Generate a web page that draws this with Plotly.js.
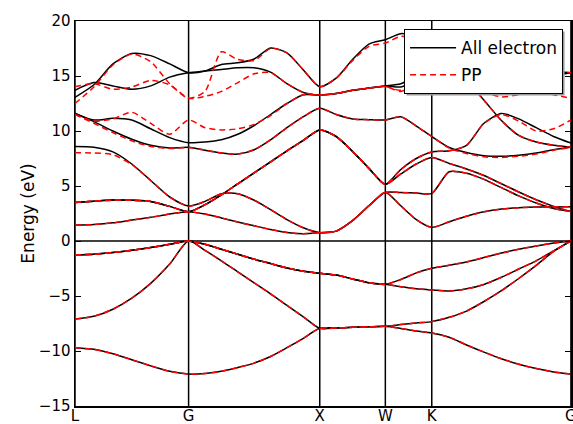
<!DOCTYPE html>
<html>
<head>
<meta charset="utf-8">
<script src="https://cdn.plot.ly/plotly-3.0.1.min.js"></script>
<style>html,body{margin:0;padding:0;background:#fff;}#plot{width:573px;height:424px;}</style>
</head>
<body>
<div id="plot"></div>
<script>
// k-path coordinates (L-G-X-W-K-G)
const kpath = [0,0.144,0.289,0.433,0.577,0.722,0.866, 0.991,1.116,1.241,1.366,1.491,1.616,1.741,1.866, 1.991,2.116,2.241,2.366, 2.484,2.602,2.720, 2.853,2.985,3.118,3.251,3.383,3.516,3.649,3.781];
const symPos = [0,0.866,1.866,2.366,2.720,3.781];
const symLabels = ['L','G','X','W','K','G'];

// valence bands (AE and PP coincide)
const v1 = [-9.7,-9.85,-10.25,-10.8,-11.35,-11.85,-12.1, -12.05,-11.85,-11.5,-11.1,-10.5,-9.7,-8.85,-7.94, -7.9,-7.85,-7.8,-7.76, -7.95,-8.18,-8.36, -8.75,-9.45,-10.1,-10.7,-11.2,-11.6,-11.9,-12.1];
const v2 = [-7.1,-6.85,-6.2,-5.2,-3.85,-2.1,0, -0.85,-1.8,-2.8,-3.8,-4.8,-5.85,-6.9,-7.94, -7.9,-7.85,-7.8,-7.76, -7.6,-7.45,-7.33, -6.94,-6.37,-5.5,-4.52,-3.41,-2.22,-0.95,0];
const v3 = [-1.27,-1.2,-1.05,-0.85,-0.6,-0.3,0, -0.3,-0.75,-1.2,-1.65,-2.05,-2.45,-2.75,-2.94, -3.1,-3.45,-3.8,-3.94, -4.15,-4.35,-4.45, -4.55,-4.35,-3.95,-3.3,-2.55,-1.8,-0.9,0];
const v4 = [-1.27,-1.2,-1.05,-0.85,-0.6,-0.3,0, -0.3,-0.75,-1.2,-1.65,-2.05,-2.45,-2.75,-2.94, -3.1,-3.45,-3.8,-3.94, -3.5,-2.9,-2.48, -2.2,-1.9,-1.5,-1.1,-0.75,-0.45,-0.18,0];

// conduction bands, all electron
const c1 = [1.45,1.5,1.65,1.9,2.15,2.45,2.67, 2.45,2.1,1.72,1.38,1.05,0.78,0.66,0.76, 0.9,1.85,3.2,4.42, 3.2,1.95,1.24, 1.75,2.25,2.65,2.9,3.02,3.08,3.1,3.12];
const c2 = [3.5,3.62,3.72,3.7,3.6,3.15,2.67, 3.3,4.2,5.2,6.2,7.2,8.2,9.15,10.1, 9.5,8.15,6.6,5.15, 6.1,7.0,7.6, 7.05,6.55,5.95,5.2,4.45,3.75,3.15,2.67];
const c3 = [8.58,8.52,8.1,7.0,5.5,4.0,3.18, 3.6,4.3,4.3,3.7,2.85,1.95,1.2,0.76, 0.9,1.85,3.2,4.42, 4.4,4.36,4.33, 6.3,6.15,5.6,4.85,4.1,3.45,2.95,2.67];
const c4 = [11.6,10.85,10.0,9.25,8.7,8.45,8.52, 8.25,8.0,7.9,8.3,9.2,10.3,11.3,12.06, 11.5,11.1,11.03,11.0, 11.3,10.45,9.5, 8.5,8.05,7.75,7.7,7.8,8.0,8.3,8.52];
const c5 = [11.6,11.0,11.15,11.0,10.2,9.4,8.94, 9.0,9.2,9.7,10.5,11.5,12.5,13.3,13.27, 13.4,13.7,13.9,14.1, 14.0,14.6,15.3, 15.2,14.5,12.8,10.95,9.6,9.0,8.7,8.52];
const c6 = [13.06,14.2,16.1,17.05,16.85,16.1,15.3, 15.45,16.05,16.2,16.55,17.55,17.1,15.55,14.03, 14.8,16.5,17.9,18.3, 18.85,18.6,18.1, 17.5,17.0,16.6,16.2,15.9,15.6,15.4,15.3];
const c7 = [13.7,14.4,14.1,13.8,14.1,14.9,15.3, 15.45,15.6,15.75,15.75,15.35,14.3,13.5,13.27, 13.4,13.7,13.9,14.1, 14.3,15.0,15.8, 15.6,14.9,14.1,13.65,13.9,14.5,15.0,15.3];
const c8 = [3.5,3.62,3.72,3.7,3.6,3.15,2.67, 3.3,4.2,5.2,6.2,7.2,8.2,9.15,10.1, 9.5,8.15,6.6,5.15, 6.5,7.5,8.1, 8.2,8.7,10.7,11.6,11.1,10.3,9.5,8.9];

// conduction bands, pseudopotential (where they differ)
const p3 = [8.03,8.0,7.85,6.95,5.5,4.0,3.18, 3.6,4.3,4.3,3.7,2.85,1.95,1.2,0.76, 0.9,1.85,3.2,4.42, 4.4,4.36,4.33, 6.3,6.15,5.6,4.85,4.1,3.45,2.95,2.67];
const p4 = [11.5,10.7,9.85,9.1,8.6,8.4,8.5, 8.25,8.0,7.9,8.3,9.2,10.3,11.3,12.06, 11.5,11.1,11.03,11.0, 11.3,10.45,9.5, 8.45,7.95,7.65,7.6,7.7,7.9,8.25,8.5];
const p5 = [11.5,10.9,11.1,11.7,10.7,9.7,11.0, 10.3,10.1,10.2,10.6,11.4,12.5,13.3,13.27, 13.4,13.7,13.9,14.05, 13.6,14.3,15.3, 15.2,14.5,12.8,10.95,9.6,9.0,8.7,8.52];
const p6 = [12.5,14.0,16.0,17.0,16.3,14.3,12.97, 13.6,17.2,16.5,16.4,17.5,17.1,15.55,14.03, 14.8,16.4,17.7,18.0, 18.6,18.4,18.0, 17.5,17.0,16.6,16.2,15.9,15.6,15.4,15.3];
const p7 = [14.03,14.3,13.8,14.0,14.6,14.2,12.97, 13.15,13.6,14.4,15.2,15.3,14.3,13.5,13.27, 13.4,13.7,13.9,14.05, 13.7,14.6,15.5, 15.5,14.7,13.6,13.1,13.3,13.6,13.3,12.97];
const p8 = [3.5,3.62,3.72,3.7,3.6,3.15,2.67, 3.3,4.2,5.2,6.2,7.2,8.2,9.15,10.1, 9.5,8.15,6.6,5.15, 6.5,7.5,8.1, 8.2,8.7,10.7,11.5,10.9,10.0,10.2,11.0];

const aeBands = [v1,v2,v3,v4,c1,c2,c3,c4,c5,c6,c7,c8];
const ppBands = [v1,v2,v3,v4,c1,c2,p3,p4,p5,p6,p7,p8];

const traces = [];
aeBands.forEach((b,i)=>traces.push({x:kpath,y:b,type:'scatter',mode:'lines',name:'All electron',legendgroup:'ae',showlegend:i===0,
  line:{color:'black',width:1.5,shape:'spline',smoothing:0.7},hoverinfo:'skip'}));
ppBands.forEach((b,i)=>traces.push({x:kpath,y:b,type:'scatter',mode:'lines',name:'PP',legendgroup:'pp',showlegend:i===0,
  line:{color:'red',width:1.5,dash:'6px,4px',shape:'spline',smoothing:0.7},hoverinfo:'skip'}));

const shapes = symPos.map(p=>({type:'line',xref:'x',yref:'paper',x0:p,x1:p,y0:0,y1:1,line:{color:'black',width:1.5},layer:'below'}));
shapes.push({type:'line',xref:'paper',yref:'y',x0:0,x1:1,y0:0,y1:0,line:{color:'black',width:1.5},layer:'below'});

const L0 = 75, PW = 496, B0 = 406, PH = 385;
const layout = {
  width:573,height:424,
  margin:{l:75,r:2,t:21,b:18},
  paper_bgcolor:'white',plot_bgcolor:'white',
  font:{family:'DejaVu Sans',color:'black'},
  showlegend:true,
  legend:{x:0.984,y:0.979,xanchor:'right',yanchor:'top',bgcolor:'white',bordercolor:'black',borderwidth:1,
    font:{family:'DejaVu Sans',size:17},itemwidth:46,tracegroupgap:2},
  xaxis:{range:[0,3.7815],tickvals:symPos,ticktext:symLabels,ticks:'',showgrid:false,zeroline:false,ticklabelstandoff:-5,
    ticklabeloverflow:'allow',
    showline:true,mirror:true,linecolor:'black',linewidth:1.5,tickfont:{size:15},fixedrange:true},
  yaxis:{range:[-15,20],dtick:5,tick0:0,ticks:'inside',ticklen:6,tickwidth:1,tickcolor:'black',showgrid:false,zeroline:false,
    showline:true,mirror:'ticks',linecolor:'black',linewidth:1.5,tickfont:{size:15},
    title:{text:'Energy (eV)',font:{size:17},standoff:0},fixedrange:true},
  shapes:shapes
};
Plotly.newPlot('plot',traces,layout,{staticPlot:true}).then(gd=>{
  const bg = gd.querySelector('.legend rect.bg');
  const pr = gd.querySelector('.main-svg').getBoundingClientRect();
  if(bg){
    const r = bg.getBoundingClientRect();
    const x0 = r.left - pr.left + 2, x1 = r.right - pr.left + 2;
    const y0 = r.top - pr.top + 2, y1 = r.bottom - pr.top + 2;
    const sh = shapes.slice();
    sh.push({type:'rect',xref:'paper',yref:'paper',x0:(x0-L0)/PW,x1:(x1-L0)/PW,y0:(B0-y1)/PH,y1:(B0-y0)/PH,
      fillcolor:'#9a9a9a',line:{width:0},layer:'above'});
    Plotly.relayout(gd,{shapes:sh});
  }
});
</script>
</body>
</html>
